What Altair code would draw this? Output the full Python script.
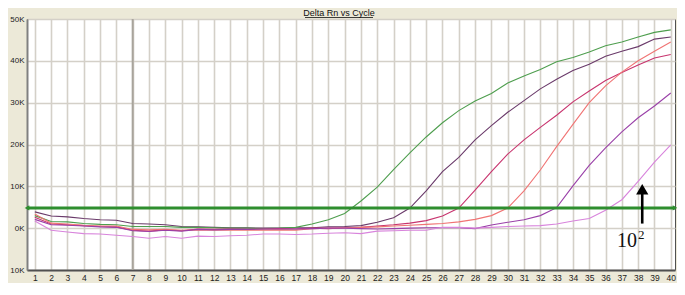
import altair as alt
import pandas as pd

# ---------------- data (values in thousands of Delta Rn) ----------------
cycles = list(range(1, 41))

dark_purple = [3.9, 2.9, 2.7, 2.3, 2.0, 1.9, 1.1, 1.0, 0.8, 0.4,
               0.3, 0.2, 0.1, 0.1, 0.0, 0.0, 0.1, 0.1, 0.3, 0.4,
               0.6, 1.4, 2.5, 4.8, 8.9, 13.5, 16.9, 21.1, 24.5, 27.7,
               30.5, 33.3, 35.6, 37.7, 39.2, 41.1, 42.3, 43.4, 45.2, 45.7]
green = [3.0, 1.6, 1.5, 1.1, 0.9, 0.8, 0.4, 0.4, 0.4, 0.2,
         0.2, 0.1, 0.0, 0.0, -0.1, 0.0, 0.2, 1.0, 2.0, 3.5,
         6.5, 9.8, 14.0, 18.0, 21.8, 25.2, 28.1, 30.4, 32.2, 34.7,
         36.4, 37.9, 39.8, 40.8, 42.1, 43.6, 44.5, 45.7, 46.8, 47.4]
crimson = [2.6, 1.0, 0.8, 0.6, 0.4, 0.3, -0.5, -0.7, -0.4, -0.6,
           -0.2, -0.3, -0.2, -0.3, -0.2, -0.1, -0.2, 0.0, -0.1, 0.1,
           0.2, 0.5, 0.8, 1.2, 1.8, 2.9, 4.8, 9.1, 13.5, 17.7,
           21.1, 24.1, 27.0, 30.2, 32.8, 35.3, 37.2, 39.0, 40.7, 41.5]
salmon = [3.4, 1.2, 1.0, 0.7, 0.5, 0.5, -0.3, -0.4, -0.3, -0.5,
          -0.4, -0.5, -0.4, -0.5, -0.5, -0.4, -0.5, -0.1, 0.0, 0.1,
          0.2, 0.3, 0.5, 0.7, 0.9, 1.1, 1.5, 2.1, 3.0, 4.8,
          8.9, 13.9, 19.5, 24.8, 30.0, 34.0, 37.3, 40.0, 42.3, 44.5]
purple = [2.1, 0.8, 0.7, 0.5, 0.3, 0.2, -0.6, -0.8, -0.5, -0.7,
          -0.3, -0.4, -0.3, -0.3, -0.2, -0.2, -0.2, -0.1, 0.0, 0.0,
          -0.1, -0.2, -0.1, 0.0, 0.1, 0.1, 0.1, -0.1, 0.75, 1.4,
          2.0, 3.0, 4.9, 10.1, 15.0, 19.2, 23.0, 26.4, 29.2, 32.3]
light_violet = [1.7, -0.5, -0.9, -1.3, -1.4, -1.7, -2.0, -2.4, -2.0, -2.4,
                -1.9, -2.0, -1.8, -1.7, -1.4, -1.4, -1.5, -1.4, -1.2, -1.1,
                -1.3, -0.7, -0.6, -0.5, -0.5, 0.2, 0.2, 0.0, 0.2, 0.4,
                0.5, 0.6, 1.0, 1.7, 2.3, 4.3, 6.8, 11.2, 15.8, 19.9]

series_names = ["A", "B", "C", "D", "E", "F"]
series_values = [dark_purple, green, crimson, salmon, purple, light_violet]
series_colors = ["#6A3A6A", "#4E9E4E", "#C8346E", "#F07474", "#9A40A8", "#D884DC"]

y_ticks = [-10, 0, 10, 20, 30, 40, 50]
threshold = [4.85]
threshold_x = [0.52, 40.26]
highlight_cycle = [7]
arrow_cycle = [38.25]
arrow_from = [1.1]
arrow_to = [8.8]
arrow_head = [9.3]
label_pos = [37.8, -4.6]
label_base = "10"
label_exp = "2"
title_text = "Delta Rn vs Cycle"

# ---------------- frames ----------------
rows = []
for name, vals in zip(series_names, series_values):
    for c, v in zip(cycles, vals):
        rows.append({"cycle": c, "rn": v, "series": name})
df = pd.DataFrame(rows)

xscale = alt.Scale(domain=threshold_x, nice=False, zero=False)
yscale = alt.Scale(domain=[-10, 50], nice=False, zero=False)

base_x = alt.X("cycle:Q", scale=xscale,
               axis=alt.Axis(values=cycles, tickCount=len(cycles), format="d", title=None,
                             tickSize=0, labelPadding=3, labelFontSize=8.5, labelColor="#222",
                             labelFont="Liberation Sans", grid=True,
                             gridColor="#D4D0C8", gridWidth=1.6,
                             domainColor="#505050", domainWidth=2,
                             labelOverlap=False))
base_y = alt.Y("rn:Q", scale=yscale,
               axis=alt.Axis(values=y_ticks, tickCount=len(y_ticks), title=None, tickSize=0,
                             labelExpr="abs(datum.value) + 'K'",
                             labelPadding=3, labelFontSize=8, labelColor="#222",
                             labelFont="Liberation Sans", grid=True,
                             gridColor="#D4D0C8", gridWidth=1.6,
                             domainColor="#808080", domainWidth=2,
                             labelOverlap=False))

grid7 = alt.Chart(pd.DataFrame({"cycle": highlight_cycle})).mark_rule(
    color="#A8A49C", strokeWidth=2).encode(x=alt.X("cycle:Q", scale=xscale))

curves = alt.Chart(df).mark_line(strokeWidth=1.1).encode(
    x=base_x, y=base_y,
    color=alt.Color("series:N", scale=alt.Scale(domain=series_names, range=series_colors),
                    legend=None),
    order="cycle:Q")

thr = alt.Chart(pd.DataFrame({"rn": threshold})).mark_rule(
    color="#2E8E2E", strokeWidth=3).encode(y=alt.Y("rn:Q", scale=yscale))

thr_ends = alt.Chart(pd.DataFrame({"cycle": threshold_x, "rn": threshold * 2,
                                   "shape": ["triangle-left", "triangle-right"]})).mark_point(
    filled=True, color="#2E8E2E", size=28, opacity=1).encode(
    x=alt.X("cycle:Q", scale=xscale), y=alt.Y("rn:Q", scale=yscale),
    shape=alt.Shape("shape:N", scale=None))

arrow_line = alt.Chart(pd.DataFrame({"cycle": arrow_cycle, "y1": arrow_from, "y2": arrow_to})).mark_rule(
    color="black", strokeWidth=2.6).encode(
    x=alt.X("cycle:Q", scale=xscale), y=alt.Y("y1:Q", scale=yscale), y2="y2:Q")

arrow_tip = alt.Chart(pd.DataFrame({"cycle": arrow_cycle, "rn": arrow_head})).mark_point(
    shape="triangle-up", filled=True, color="black", size=150, opacity=1).encode(
    x=alt.X("cycle:Q", scale=xscale), y=alt.Y("rn:Q", scale=yscale))

label_df = pd.DataFrame({"cycle": [label_pos[0]], "rn": [label_pos[1]],
                         "b": [label_base], "e": [label_exp]})
label = alt.Chart(label_df).mark_text(
    font="Liberation Serif", fontSize=20, color="#111", baseline="alphabetic", align="right",
    dx=2).encode(
    x=alt.X("cycle:Q", scale=xscale), y=alt.Y("rn:Q", scale=yscale), text="b:N")
label_sup = alt.Chart(label_df).mark_text(
    font="Liberation Serif", fontSize=13, color="#111", baseline="alphabetic", align="left",
    dx=3, dy=-8).encode(
    x=alt.X("cycle:Q", scale=xscale), y=alt.Y("rn:Q", scale=yscale), text="e:N")

title = alt.Chart(pd.DataFrame({"t": [title_text]})).mark_text(
    font="Liberation Sans", fontSize=9, color="#111", baseline="alphabetic", align="center").encode(
    x=alt.value(312), y=alt.value(-3), text="t:N")

underline = alt.Chart(pd.DataFrame({"t": [title_text]})).mark_rule(
    color="#111", strokeWidth=0.8).encode(x=alt.value(278), x2=alt.value(346), y=alt.value(-1.5))

chart = alt.layer(grid7, curves, thr, thr_ends, arrow_line, arrow_tip, label, label_sup,
                  title, underline).properties(
    width=648, height=251,
    padding={"left": 19, "top": 11, "right": 2, "bottom": 13},
    autosize="none",
    background="#ECE9D8",
).configure_view(fill="white", stroke="#505050", strokeWidth=1)

chart.save("out.html", embed_options={"renderer": "svg", "actions": False})
